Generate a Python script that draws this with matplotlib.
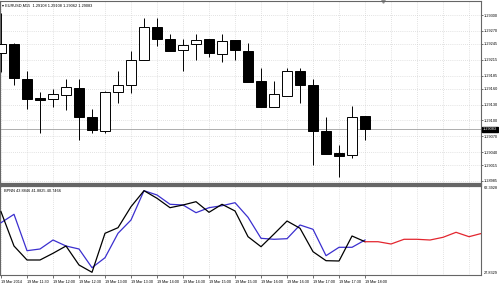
import matplotlib.pyplot as plt
import numpy as np

plt.rcParams['font.family'] = ['Liberation Sans', 'DejaVu Sans']

W, H = 499, 284

# EURUSD M15 candles, 19 Mar 2014 11:00 .. 18:00
opens = [1.29228, 1.29245, 1.29179, 1.29143, 1.29141, 1.29148, 1.29161, 1.29106, 1.29080, 1.29154,
         1.29167, 1.29215, 1.29277, 1.29254, 1.29234, 1.29245, 1.29254, 1.29226, 1.29253, 1.29232,
         1.29175, 1.29125, 1.29146, 1.29194, 1.29167, 1.29080, 1.29038, 1.29034, 1.29108]
highs = [1.29304, 1.29246, 1.29194, 1.29154, 1.29160, 1.29179, 1.29179, 1.29122, 1.29156, 1.29194,
         1.29232, 1.29294, 1.29294, 1.29264, 1.29254, 1.29264, 1.29254, 1.29264, 1.29253, 1.29247,
         1.29199, 1.29175, 1.29199, 1.29199, 1.29179, 1.29106, 1.29053, 1.29127, 1.29108]
lows = [1.29192, 1.29167, 1.29122, 1.29076, 1.29125, 1.29120, 1.29063, 1.29076, 1.29076, 1.29133,
        1.29152, 1.29215, 1.29241, 1.29232, 1.29194, 1.29215, 1.29220, 1.29211, 1.29215, 1.29173,
        1.29125, 1.29125, 1.29146, 1.29133, 1.29015, 1.29036, 1.28993, 1.29029, 1.29062]
closes = [1.29245, 1.29180, 1.29141, 1.29139, 1.29150, 1.29163, 1.29106, 1.29082, 1.29154, 1.29167,
          1.29215, 1.29277, 1.29254, 1.29232, 1.29243, 1.29253, 1.29228, 1.29251, 1.29234, 1.29173,
          1.29125, 1.29150, 1.29194, 1.29167, 1.29080, 1.29036, 1.29032, 1.29106, 1.29083]

# BPNN indicator
bpnn_black = [52.41, 39.09, 33.66, 33.66, 36.26, 39.09, 31.72, 28.88, 44.03, 46.20,
              54.36, 60.57, 57.62, 53.97, 55.02, 56.30, 52.18, 55.29, 52.69, 42.71,
              38.82, 43.75, 48.80, 45.97, 36.88, 33.39, 33.27, 42.98, 40.76]
bpnn_blue = [48.14, 51.40, 37.27, 37.93, 41.42, 39.09, 37.93, 30.67, 34.55, 44.03,
             49.19, 60.57, 58.90, 55.29, 55.02, 52.03, 53.97, 54.74, 55.91, 50.24,
             42.08, 41.70, 41.93, 47.25, 45.58, 35.33, 38.59, 38.59, 41.42]
bpnn_red = [40.76, 40.76, 39.87, 41.70, 41.70, 41.42, 42.47, 44.41, 42.71, 44.03]  # forecast, from last bar

time_labels = ["19 Mar 2014", "19 Mar 11:30", "19 Mar 12:00", "19 Mar 12:30", "19 Mar 13:00",
               "19 Mar 13:30", "19 Mar 14:00", "19 Mar 14:30", "19 Mar 15:00", "19 Mar 15:30",
               "19 Mar 16:00", "19 Mar 16:30", "19 Mar 17:00", "19 Mar 17:30", "19 Mar 18:00"]
price_ticks = [1.29300, 1.29270, 1.29245, 1.29215, 1.29185, 1.29160, 1.29130, 1.29100,
               1.29070, 1.29040, 1.29015, 1.28985]
ind_min, ind_max = 27.8329, 62.3928

n = len(opens)
idx = np.arange(n)
red_idx = np.arange(n - 1, n - 1 + len(bpnn_red))

fs = 2.8
fig = plt.figure(figsize=(W / 100, H / 100), dpi=100)
fig.patch.set_facecolor("white")

def px_axes(x0, y0, x1, y1):
    return fig.add_axes([x0 / W, 1 - y1 / H, (x1 - x0) / W, (y1 - y0) / H])

ax = px_axes(0, 1, 481, 184)
ax2 = px_axes(0, 186, 481, 275)

xlim = (-0.077, 36.92)
grid_kw = dict(color="#c8c8c8", linestyle=(0, (1, 2)), linewidth=0.5, zorder=0)

# ---- main chart: candles
o = np.array(opens); c = np.array(closes)
up = c >= o
body_bottom = np.minimum(o, c)
body_h = np.maximum(np.abs(c - o), 0.000012)
ax.vlines(idx, lows, highs, color="black", linewidth=0.7, zorder=2)
ax.bar(idx, body_h, bottom=body_bottom, width=0.72,
       color=np.where(up, "white", "black"), edgecolor="black", linewidth=0.7, zorder=3)

ax.set_xlim(*xlim)
ax.set_ylim(1.289793, 1.293266)
for p in price_ticks:
    ax.axhline(p, **grid_kw)
for i in range(0, 38, 2):
    ax.axvline(i, **grid_kw)
    ax2.axvline(i, **grid_kw)

# bid line + price box
ax.axhline(closes[-1], color="#a0a0a0", linewidth=0.6, zorder=1)
ax.yaxis.tick_right()
ax.set_yticks(price_ticks)
ax.set_yticklabels(["%.5f" % p for p in price_ticks], fontsize=fs, color="black")
ax.tick_params(axis="y", length=1.2, width=0.4, pad=0.8, colors="black")
ax.set_xticks([])
ax.text(1.004, closes[-1], "%.5f" % closes[-1], transform=ax.get_yaxis_transform(),
        fontsize=fs, color="white", va="center", ha="left",
        bbox=dict(boxstyle="square,pad=0.2", facecolor="black", edgecolor="black"))
ax.text(0.004, 0.985, "\u25be EURUSD,M15  %.5f %.5f %.5f %.5f" % (opens[-1], highs[-1], lows[-1], closes[-1]),
        transform=ax.transAxes, fontsize=fs, va="top", ha="left", color="black")
ax.plot([29.4], [1.293266], marker="v", markersize=2.5, color="#909090", clip_on=False)

# ---- indicator window
ax2.plot(idx, bpnn_blue, color="#3b2fcf", linewidth=0.9, zorder=3)
ax2.plot(idx, bpnn_black, color="black", linewidth=0.9, zorder=3)
ax2.plot(red_idx, bpnn_red, color="#e3262f", linewidth=0.9, zorder=3)
ax2.set_xlim(*xlim)
ax2.set_ylim(ind_min, ind_max)
ax2.set_yticks([])
ax2.text(0.008, 0.97, "BPNN 43.8846 41.8825 40.7466", transform=ax2.transAxes,
         fontsize=fs, va="top", ha="left")
ax2.text(1.005, 1.0, "%.4f" % ind_max, transform=ax2.transAxes, fontsize=fs, va="top", ha="left",
         color="black")
ax2.text(1.005, 0.0, "%.4f" % ind_min, transform=ax2.transAxes, fontsize=fs, va="bottom", ha="left",
         color="black")
ax2.set_xticks(idx[::2])
ax2.set_xticklabels(time_labels, fontsize=2.7, ha="left", color="black")
ax2.tick_params(axis="x", length=2, width=0.4, pad=1.5)

for a in (ax, ax2):
    for s in a.spines.values():
        s.set_color("#666666")
        s.set_linewidth(0.8)
ax.spines["bottom"].set_linewidth(1.6)
ax2.spines["top"].set_linewidth(1.6)

fig.savefig("out.png", dpi=100, facecolor="white")
